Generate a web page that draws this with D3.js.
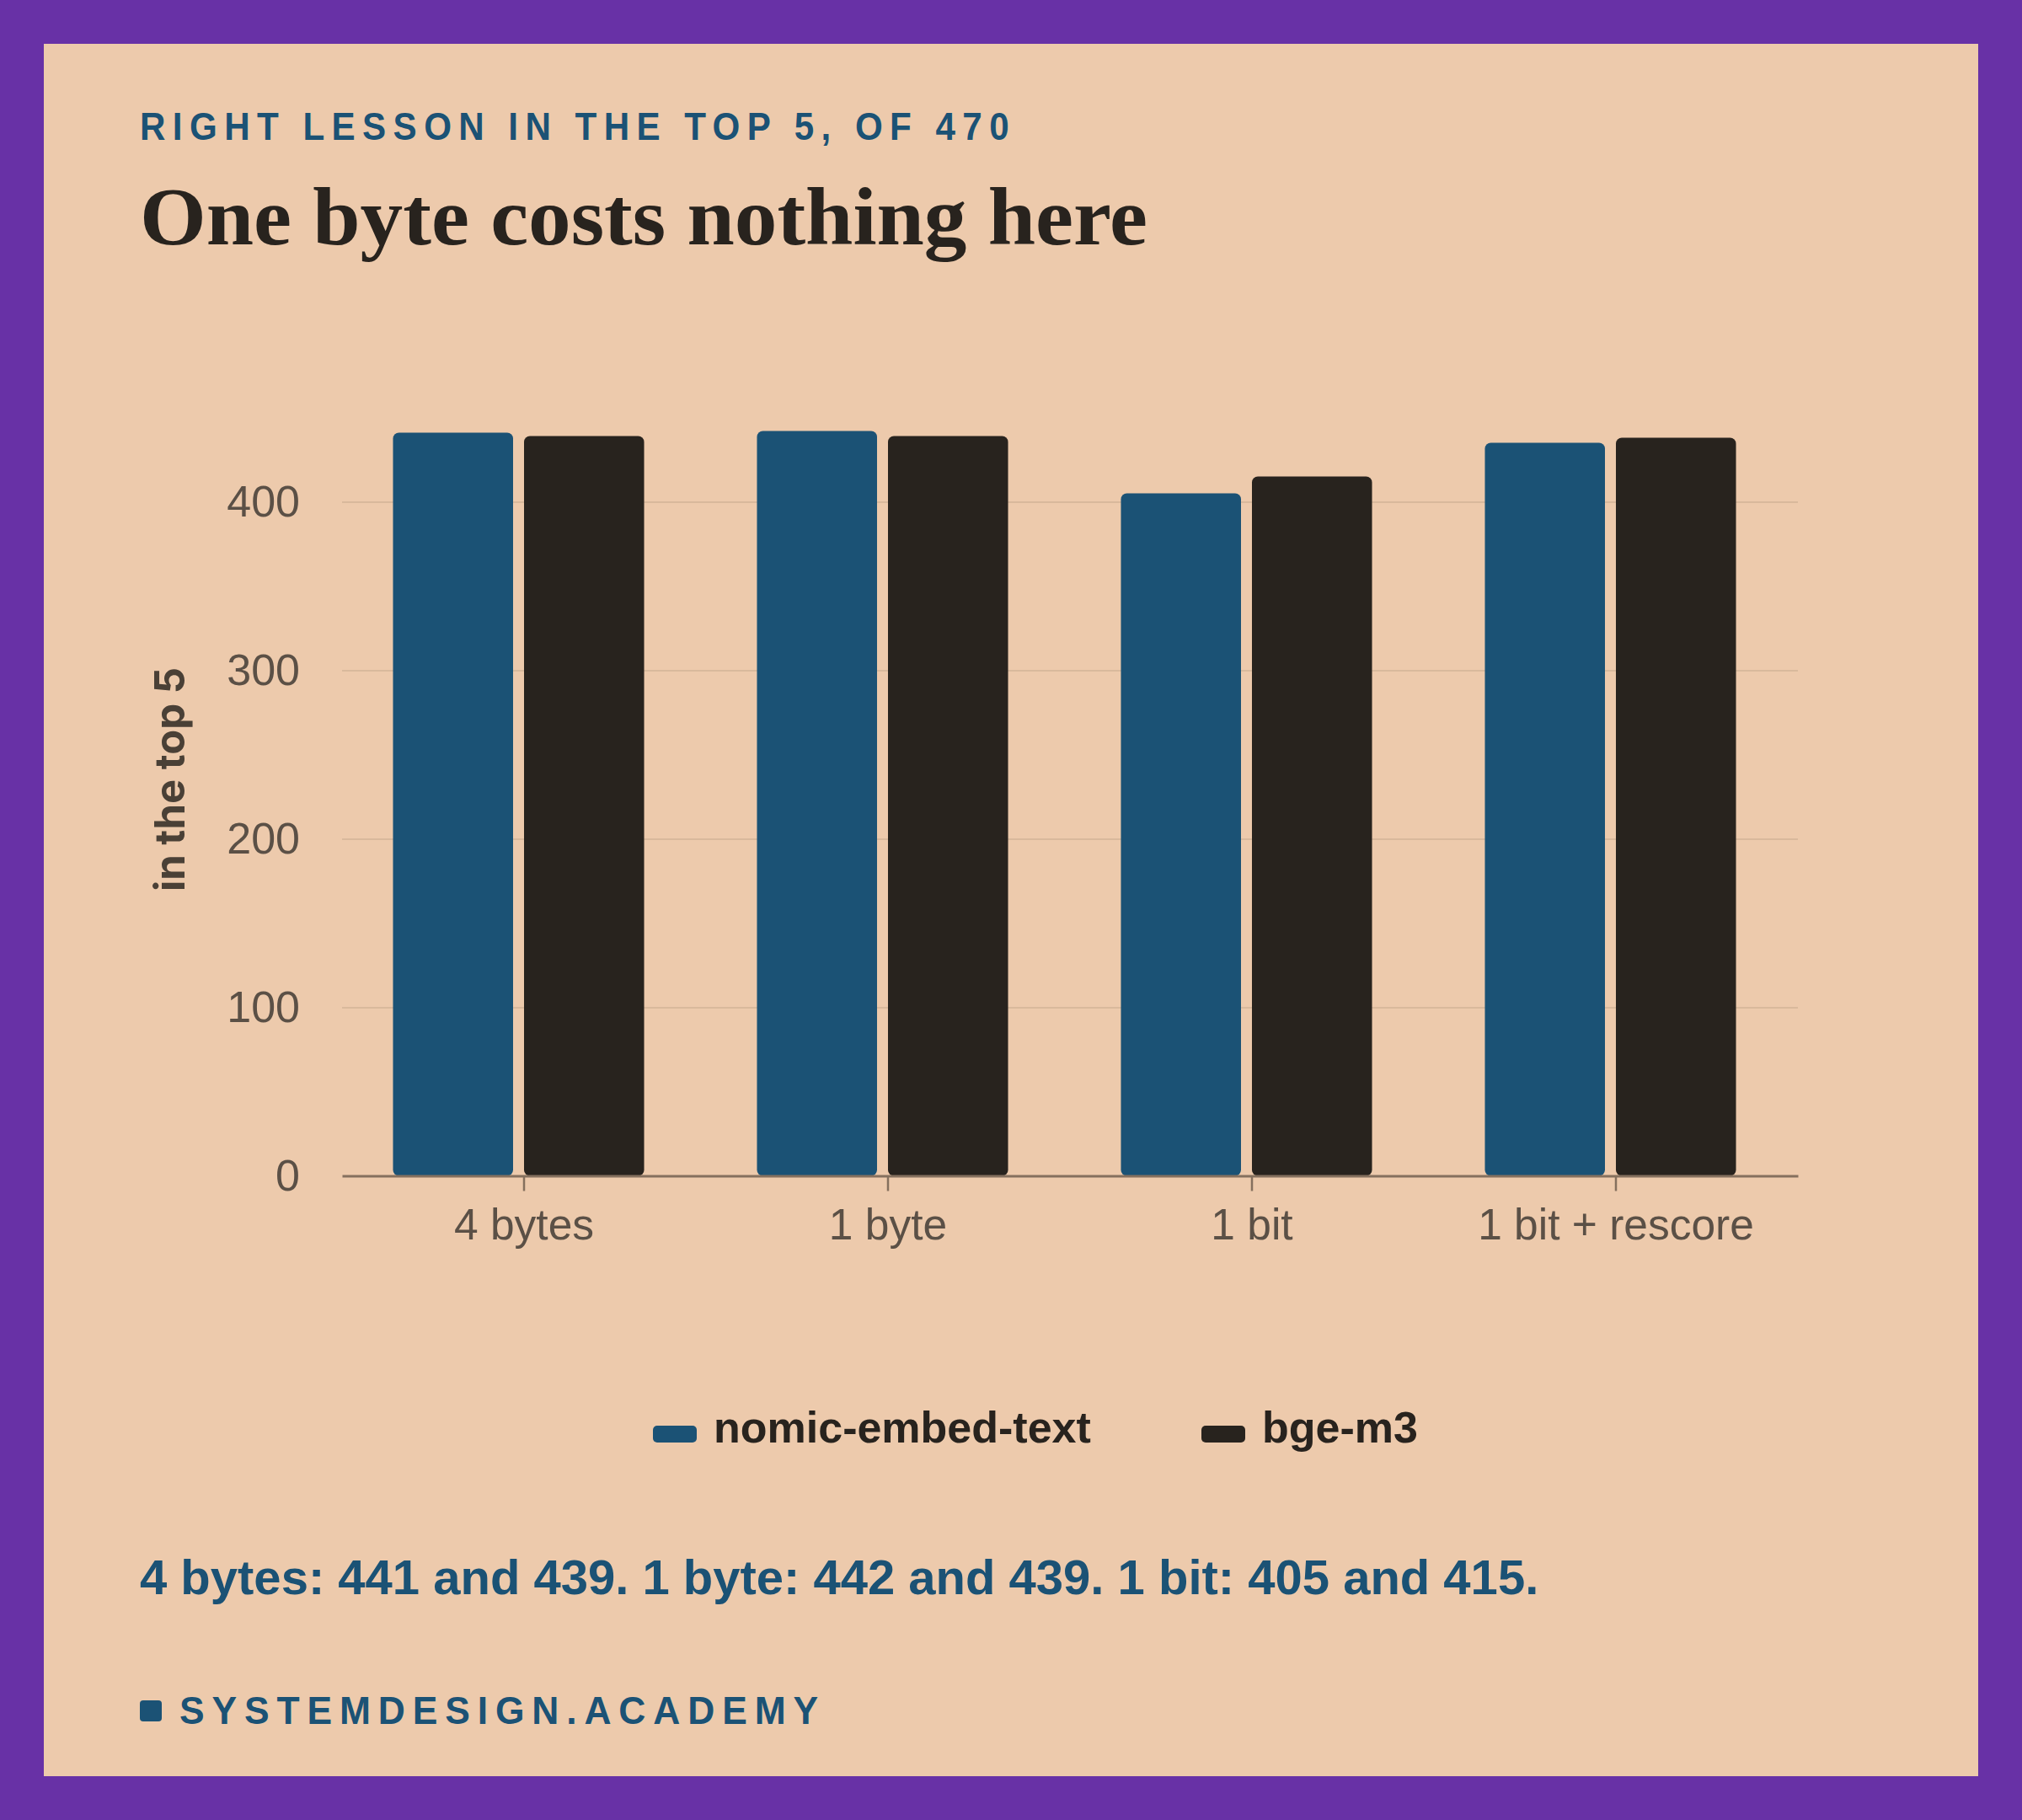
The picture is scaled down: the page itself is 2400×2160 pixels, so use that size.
<!DOCTYPE html>
<html>
<head>
<meta charset="utf-8">
<script src="https://cdn.jsdelivr.net/npm/d3@7"></script>
<style>
  html, body { margin: 0; padding: 0; background: #6831A6; }
  svg { display: block; }
</style>
</head>
<body>
<svg id="chart" width="2400" height="2160"></svg>
<script>
// ---- data ----
const categories = ["4 bytes", "1 byte", "1 bit", "1 bit + rescore"];
const seriesNames = ["nomic-embed-text", "bge-m3"];
const nomicValues = [441, 442, 405, 435];
const bgeValues = [439, 439, 415, 438];
const yTickValues = [0, 100, 200, 300, 400];
const gridValues = [100, 200, 300, 400];
const seriesColors = ["#1B5275", "#28231E"];

const kicker = "RIGHT LESSON IN THE TOP 5, OF 470";
const title = "One byte costs nothing here";
const yLabel = "in the top 5";
const note = "4 bytes: 441 and 439. 1 byte: 442 and 439. 1 bit: 405 and 415.";
const brand = "SYSTEMDESIGN.ACADEMY";

// ---- layout ----
const W = 2400, H = 2160;
const plot = { left: 406, right: 2134, top: 455.5, bottom: 1395.5 };
const bg = "#EDCAAC";
const blue = "#1B5275";
const ink = "#28231E";
const sans = "'Liberation Sans', Arial, Helvetica, sans-serif";

const svg = d3.select("#chart");
svg.append("rect").attr("x", 0).attr("y", 0).attr("width", W).attr("height", H).attr("fill", "#6831A6");
svg.append("rect").attr("x", 52).attr("y", 52).attr("width", W - 104).attr("height", H - 104).attr("fill", bg);

// header
svg.append("text")
  .attr("x", 166).attr("y", 166)
  .attr("font-family", sans).attr("font-weight", 700).attr("font-size", 46)
  .attr("letter-spacing", "0.2em")
  .attr("textLength", 1040).attr("lengthAdjust", "spacingAndGlyphs")
  .attr("fill", blue)
  .text(kicker);

svg.append("text")
  .attr("x", 166).attr("y", 290)
  .attr("font-family", "'Liberation Serif', 'Times New Roman', serif").attr("font-weight", 700).attr("font-size", 98)
  .attr("textLength", 1196).attr("lengthAdjust", "spacingAndGlyphs")
  .attr("fill", ink)
  .text(title);

// scales
const x0 = d3.scaleBand().domain(categories).range([plot.left, plot.right]).paddingInner(0.28).paddingOuter(0.14);
const x1 = d3.scaleBand().domain(seriesNames).range([0, x0.bandwidth()]);
const y = d3.scaleLinear().domain([0, 470]).range([plot.bottom, plot.top]);
const barGap = 13;

// gridlines
const grid = svg.append("g").attr("transform", `translate(${plot.left},0)`)
  .call(d3.axisLeft(y).tickValues(gridValues).tickSize(-(plot.right - plot.left)).tickFormat(""));
grid.select(".domain").remove();
grid.selectAll("line").attr("stroke", "#D9B99C").attr("stroke-width", 2);

// y tick labels
const yAxis = svg.append("g").attr("transform", `translate(${plot.left},0)`)
  .call(d3.axisLeft(y).tickValues(yTickValues).tickSize(0).tickPadding(50));
yAxis.select(".domain").remove();
yAxis.selectAll("text").attr("font-family", sans).attr("font-size", 52).attr("fill", "#5B5046");

// bars
const rows = categories.map((c, i) => ({ cat: c, values: [nomicValues[i], bgeValues[i]] }));
const groups = svg.append("g").selectAll("g").data(rows).join("g")
  .attr("transform", d => `translate(${x0(d.cat)},0)`);
groups.selectAll("rect")
  .data(d => d.values.map((v, j) => ({ key: seriesNames[j], value: v, color: seriesColors[j] })))
  .join("rect")
  .attr("x", d => x1(d.key))
  .attr("y", d => y(d.value))
  .attr("width", x1.bandwidth() - barGap)
  .attr("height", d => y(0) - y(d.value))
  .attr("rx", 7).attr("ry", 7)
  .attr("fill", d => d.color);

// x axis
const xAxis = svg.append("g").attr("transform", `translate(0,${plot.bottom})`)
  .call(d3.axisBottom(x0).tickSize(18).tickSizeOuter(0).tickPadding(21));
xAxis.select(".domain").attr("stroke", "#85705E").attr("stroke-width", 3);
xAxis.selectAll(".tick line").attr("stroke", "#85705E").attr("stroke-width", 2.5);
xAxis.selectAll("text").attr("font-family", sans).attr("font-size", 51.5).attr("fill", "#5B5046");

// y label
svg.append("text")
  .attr("transform", "translate(219,925) rotate(-90)")
  .attr("text-anchor", "middle")
  .attr("font-family", "Inter, 'Liberation Sans', sans-serif").attr("font-weight", 700).attr("font-size", 49)
  .attr("fill", "#4A4036")
  .text(yLabel);

// legend
const legendX = [775, 1426];
const legend = svg.append("g");
seriesNames.forEach((name, i) => {
  legend.append("rect").attr("x", legendX[i]).attr("y", 1692).attr("width", 52).attr("height", 20)
    .attr("rx", 5).attr("fill", seriesColors[i]);
  legend.append("text").attr("x", legendX[i] + 72).attr("y", 1712)
    .attr("font-family", sans).attr("font-weight", 700).attr("font-size", 52)
    .attr("fill", ink).text(name);
});

// note
svg.append("text")
  .attr("x", 166).attr("y", 1892)
  .attr("font-family", sans).attr("font-weight", 700).attr("font-size", 58)
  .attr("fill", blue)
  .text(note);

// brand
svg.append("rect").attr("x", 166).attr("y", 2018).attr("width", 26).attr("height", 25).attr("rx", 4).attr("fill", blue);
svg.append("text")
  .attr("x", 213).attr("y", 2046)
  .attr("font-family", sans).attr("font-weight", 700).attr("font-size", 46)
  .attr("letter-spacing", "0.2em")
  .attr("textLength", 767).attr("lengthAdjust", "spacingAndGlyphs")
  .attr("fill", blue)
  .text(brand);
</script>
</body>
</html>
